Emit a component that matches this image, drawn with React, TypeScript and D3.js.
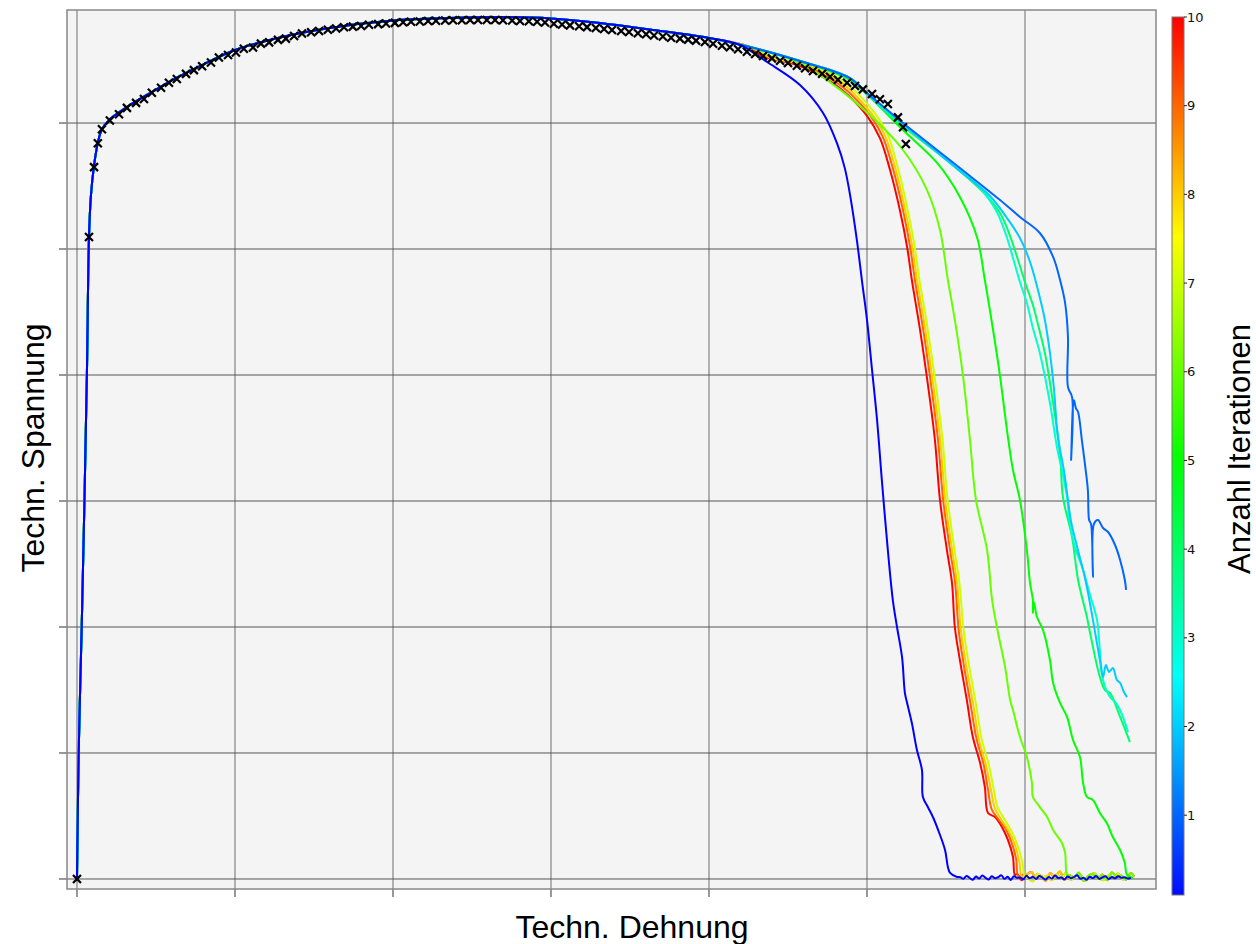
import React from 'react';
import * as d3 from 'd3';

// ---------- DATA (strain in %, stress in MPa) ----------
const X_TICKS = [0, 5, 10, 15, 20, 25, 30];
const Y_TICKS = [0, 100, 200, 300, 400, 500, 600];
const CB_TICKS = [1, 2, 3, 4, 5, 6, 7, 8, 9, 10];

// experimental points (markers)
const expStrain = [0, 0.38, 0.54, 0.66, 0.79, 1.04, 1.33, 1.58, 1.87, 2.12,
  2.37, 2.66, 2.91, 3.16, 3.45, 3.70, 3.96, 4.24, 4.49, 4.78,
  5.03, 5.28, 5.57, 5.82, 6.08, 6.36, 6.61, 6.87, 7.12, 7.41,
  7.66, 7.94, 8.20, 8.45, 8.73, 8.99, 9.24, 9.53, 9.78, 10.06,
  10.32, 10.57, 10.85, 11.11, 11.36, 11.65, 11.90, 12.18, 12.44, 12.69,
  12.97, 13.23, 13.48, 13.77, 14.02, 14.30, 14.56, 14.81, 15.09, 15.35,
  15.60, 15.89, 16.14, 16.42, 16.68, 16.93, 17.22, 17.47, 17.75, 18.01,
  18.26, 18.54, 18.80, 19.08, 19.34, 19.59, 19.87, 20.13, 20.41, 20.66,
  20.92, 21.20, 21.46, 21.71, 21.99, 22.25, 22.50, 22.78, 23.04, 23.29,
  23.58, 23.83, 24.08, 24.37, 24.62, 24.87, 25.16, 25.41, 25.66, 25.98,
  26.14, 26.23];
const expStress = [0, 509.5, 565, 584, 595, 602, 607, 612, 616, 619,
  624, 628, 632, 635, 639, 642, 645, 648, 652, 654,
  656, 659, 660, 663, 664, 666, 667, 669, 671, 672,
  673, 674, 675, 676, 676.5, 677, 678, 678.5, 679, 679.5,
  680, 680.3, 680.6, 681, 681.2, 681.3, 681.5, 681.6, 681.7, 681.7,
  681.7, 681.7, 681.5, 681.3, 681, 680.7, 680.3, 679.8, 678.8, 678.2,
  677.5, 676.8, 676.1, 675.4, 674.6, 673.8, 673, 672.2, 671.3, 670.5,
  669.5, 668.7, 667.7, 667, 666.2, 665.4, 664.3, 662.9, 661.3, 660.1,
  658.5, 656.6, 654.8, 653.2, 651.3, 649.4, 647.6, 645.5, 643.4, 641.3,
  639.1, 636.7, 634.4, 632, 629.4, 626.7, 623, 618.8, 615.1, 604.5,
  596.6, 583.3];

// shared simulated path (before the curves split)
const baseStrain = [0, 0.054, 0.149, 0.237, 0.316, 0.38, 0.443, 0.538, 0.665, 0.79,
  1.04, 1.58, 2.37, 3.16, 3.96, 5.0, 6.36, 8.0, 10.0, 11.8,
  13.4, 15.0, 16.55, 18.13, 20.0, 21.3, 22.88, 24.46];
const baseStress = [0, 100, 200, 300.8, 404, 509.5, 543, 566, 585, 595,
  603, 612.7, 624.6, 636, 646, 658, 667.5, 675.4, 681.3, 683.3,
  684.1, 683, 679.4, 674.2, 667.5, 660.3, 649.2, 635.7];

// residual noise after fracture
const flatAStrain = [27.95, 28.05, 28.15, 28.25, 28.35, 28.45, 28.55, 28.65, 28.75, 28.85,
  28.95, 29.05, 29.15, 29.25, 29.35, 29.45, 29.55, 29.65, 29.75, 29.85,
  29.95, 30.05, 30.15, 30.25, 30.35, 30.45, 30.55, 30.65, 30.75, 30.85,
  30.95, 31.05, 31.15, 31.25, 31.35, 31.45, 31.55, 31.65, 31.75, 31.85,
  31.95, 32.05, 32.15, 32.25, 32.35, 32.45, 32.55, 32.65, 32.75, 32.85,
  32.95, 33.05, 33.15, 33.25, 33.35];
const flatAStress = [1.5, 0.2, 2.4, 0.8, -0.6, 1.9, 0.4, 2.8, 1.0, -0.4,
  2.1, 0.6, 1.4, 3.0, 0.1, 1.7, -0.7, 2.2, 0.9, 1.3,
  -0.2, 2.6, 0.5, 1.8, 0.0, 2.3, 1.1, -0.5, 1.6, 0.3,
  2.7, 0.8, 1.2, -0.3, 2.0, 0.6, 1.5, 2.9, 0.2, 1.0,
  -0.6, 1.8, 0.7, 2.4, 0.1, 1.3, 2.1, -0.1, 1.6, 0.5,
  2.2, 0.9, 1.4, 0.3, 1.1];
const flatBStrain = [29.75, 29.9, 30.05, 30.2, 30.35, 30.5, 30.65, 30.8, 30.95, 31.1,
  31.25, 31.4, 31.55, 31.7, 31.85, 32.0, 32.15, 32.3, 32.45, 32.6,
  32.75, 32.9, 33.05, 33.2, 33.35, 33.45];
const flatBStress = [4.0, -1.0, 3.2, 5.5, 0.5, 2.8, -1.5, 4.5, 1.2, 6.0,
  -0.8, 3.0, 1.5, 5.0, -1.2, 2.5, 4.2, 0.0, 3.5, -1.0,
  5.2, 1.8, 2.6, -0.5, 4.8, 2.0];
const flatCStrain = [29.8, 29.95, 30.1, 30.25, 30.4, 30.55, 30.7, 30.85, 31.0, 31.15,
  31.3, 31.45, 31.6, 31.75, 31.9, 32.05, 32.2, 32.35, 32.5, 32.65,
  32.8, 32.95, 33.1, 33.25, 33.4];
const flatCStress = [-0.5, 3.5, 1.0, -1.8, 4.2, 0.8, 2.5, -1.0, 3.8, 0.3,
  5.0, -0.6, 2.2, 3.6, -1.4, 1.8, 4.6, 0.5, -0.9, 3.0,
  1.4, 4.4, -0.4, 2.0, 1.0];

// tails of each iteration after leaving the shared path [strain, stress]
const iter0Tail: [number, number][] = [[20.98, 661.9], [21.84, 648.4], [22.88, 630.2], [23.61, 608], [24.05, 584],
  [24.30, 564], [24.49, 539], [24.68, 507], [24.84, 475], [25.0, 443.7], [25.16, 404], [25.32, 364],
  [25.47, 316.7], [25.66, 261], [25.82, 221], [25.95, 200], [26.11, 176], [26.20, 147.6], [26.27, 139.7],
  [26.42, 123.8], [26.58, 102.4], [26.74, 86.5], [26.77, 65], [26.93, 57], [27.09, 49], [27.25, 39],
  [27.47, 23], [27.56, 9.5], [27.63, 4.8], [27.85, 1.6]];
const iter1Tail: [number, number][] = [[25.0, 623.8], [25.57, 611.9], [26.14, 600], [27.94, 564.3], [29.21, 538.9],
  [29.84, 525.4], [30.47, 512.7], [30.89, 493.7], [31.11, 475.4], [31.27, 457.1], [31.36, 430.2],
  [31.36, 390.5], [31.49, 382.5], [31.46, 332.5], [31.52, 376.2], [31.55, 380], [31.61, 373.8],
  [31.68, 370.6], [31.80, 348.4], [31.90, 328.6], [31.99, 308.7], [32.03, 284.9], [32.09, 281.7],
  [32.15, 239.7], [32.18, 281.7], [32.31, 284.9], [32.47, 278.6], [32.63, 275.4], [32.85, 265.1],
  [33.01, 253.2], [33.16, 237.3], [33.20, 229.4]];
const iter2Tail: [number, number][] = [[25.0, 623.3], [25.57, 611.3], [26.14, 599.2], [27.94, 561.9], [28.89, 542.1],
  [29.43, 524.6], [29.84, 508.7], [30.16, 489.7], [30.41, 467.5], [30.63, 443.7], [30.79, 417.5],
  [30.92, 388.1], [31.04, 350.8], [31.23, 324.6], [31.36, 300.8], [31.46, 283.3], [31.65, 263.5],
  [31.84, 245.2], [31.99, 227.8], [32.15, 205.6], [32.37, 173.8], [32.47, 160.3], [32.56, 169.8],
  [32.66, 164.3], [32.78, 167.5], [32.91, 157.9], [33.01, 155.6], [33.13, 148.4], [33.23, 144.4]];
const iter3Tail: [number, number][] = [[25.0, 623], [25.57, 611], [26.04, 600.8], [27.63, 569], [28.58, 548.4],
  [29.11, 529.4], [29.4, 511.1], [29.62, 492.9], [29.84, 473.8], [30.06, 457.1], [30.25, 437.3],
  [30.47, 417.5], [30.79, 377.8], [31.01, 342.9], [31.17, 324.6], [31.33, 303.2], [31.42, 282.5],
  [31.58, 263.5], [31.84, 245.2], [32.06, 225.4], [32.28, 205.6], [32.37, 181.7], [32.47, 157.9],
  [32.69, 144.4], [32.85, 140.5], [33.01, 134.1], [33.26, 116.7]];
const iter4Tail: [number, number][] = [[25.0, 622.8], [25.89, 602.4], [27.63, 568.3], [28.67, 545.2], [29.21, 528.6],
  [29.53, 510.3], [29.78, 491.3], [30.03, 471.4], [30.25, 455.6], [30.44, 437.3], [30.63, 417.5],
  [30.89, 377.8], [31.11, 338.1], [31.2, 303.2], [31.49, 271.4], [31.68, 237.3], [31.96, 207.9],
  [32.06, 195.2], [32.37, 160.3], [32.53, 150], [32.69, 147.6], [33.01, 128.6], [33.32, 108.7]];
const iter5Tail: [number, number][] = [[24.46, 634.1], [25.09, 620.6], [26.14, 594.4], [27.22, 568.3], [27.94, 541.3],
  [28.48, 509.5], [28.73, 475.4], [28.99, 435.7], [29.21, 399.2], [29.43, 356.3], [29.62, 324.6],
  [29.84, 300.8], [30.06, 261.1], [30.16, 234.9], [30.25, 221.4], [30.25, 211.1], [30.28, 219.8],
  [30.38, 207.9], [30.57, 197.6], [30.79, 173.8], [30.89, 155.6], [31.11, 139.7], [31.33, 128.6],
  [31.52, 110.3], [31.74, 96.8], [31.84, 76.2], [31.96, 65.1], [32.15, 62.7], [32.37, 52.4],
  [32.59, 44.4], [32.78, 33.3], [33.01, 23], [33.16, 12.7], [33.23, 3.2], [33.42, 0.8]];
const iter6Tail: [number, number][] = [[22.88, 647.6], [23.83, 632.5], [25.09, 606.3], [26.14, 578.6], [26.9, 546.8],
  [27.31, 515.1], [27.56, 475.4], [27.78, 443.7], [28.04, 399.2], [28.26, 348.4], [28.45, 300.8],
  [28.8, 261.1], [28.96, 221.4], [29.11, 200], [29.37, 168.3], [29.53, 142.1], [29.62, 134.1],
  [29.84, 112.7], [30.06, 96.8], [30.22, 76.2], [30.25, 65.1], [30.47, 57.1], [30.7, 49.2],
  [30.89, 38.9], [31.17, 28.6], [31.27, 20.6], [31.33, 3.2]];
const iter7Tail: [number, number][] = [[22.2, 651], [23.1, 647], [24.15, 635], [24.7, 623.5], [25.24, 608],
  [25.65, 591], [25.97, 565], [26.27, 533], [26.5, 503], [26.65, 477], [26.91, 438], [27.17, 393],
  [27.39, 349], [27.55, 301], [27.77, 261], [27.93, 234], [28.05, 199], [28.21, 172], [28.44, 140],
  [28.63, 111], [28.86, 90], [29.01, 71], [29.13, 57], [29.36, 47], [29.57, 38], [29.76, 27],
  [29.92, 13], [30.0, 1]];
const iter8Tail: [number, number][] = [[22.0, 651.5], [23.04, 646.5], [24.08, 634], [24.62, 622.5], [25.16, 607],
  [25.57, 590], [25.9, 564], [26.2, 532], [26.43, 502], [26.58, 476], [26.84, 437], [27.1, 392],
  [27.32, 348], [27.48, 300], [27.7, 260], [27.86, 233], [27.97, 198], [28.13, 171], [28.36, 139],
  [28.55, 110], [28.78, 89], [28.93, 70], [29.05, 56], [29.28, 46], [29.49, 38], [29.67, 28],
  [29.82, 14], [29.9, 1.5]];
const iter9Tail: [number, number][] = [[21.9, 652], [22.95, 646], [23.98, 633], [24.55, 621.5], [25.1, 606],
  [25.5, 589], [25.83, 563], [26.14, 531], [26.37, 501], [26.52, 475], [26.78, 436], [27.03, 392],
  [27.25, 348], [27.41, 301], [27.63, 261], [27.79, 235], [27.9, 198], [28.05, 172], [28.27, 140],
  [28.46, 112], [28.69, 91], [28.83, 71], [28.95, 55], [29.17, 47], [29.38, 40], [29.56, 30],
  [29.72, 16], [29.79, 2]];
const iter10Tail: [number, number][] = [[21.61, 654], [22.88, 645.2], [23.92, 631.7], [24.46, 620.6], [25.0, 605.6],
  [25.41, 588], [25.73, 562.7], [26.04, 531], [26.27, 501.6], [26.42, 475.4], [26.68, 435.7],
  [26.93, 392], [27.15, 348.4], [27.31, 300.8], [27.53, 261], [27.69, 235], [27.78, 200],
  [27.94, 173.8], [28.16, 142], [28.35, 112.7], [28.58, 92], [28.73, 73], [28.83, 52.4],
  [29.05, 49.2], [29.27, 41.3], [29.46, 31], [29.62, 17.5], [29.68, 3.2]];

const ITERATIONS = [0, 1, 2, 3, 4, 5, 6, 7, 8, 9, 10];
const TAILS = [iter0Tail, iter1Tail, iter2Tail, iter3Tail, iter4Tail, iter5Tail, iter6Tail, iter7Tail, iter8Tail, iter9Tail, iter10Tail];
const FLAT_OF = ['A', null, null, null, null, null, 'B', 'C', 'B', 'C', 'B'];

// ---------- LAYOUT ----------
const W = 1256, H = 944;
const P = { left: 67, right: 1156, top: 10, bottom: 889 };
const X_DOMAIN: [number, number] = [-0.316, 34.146];
const Y_DOMAIN: [number, number] = [-7.94, 689.7];
const CB = { x: 1172, w: 12, top: 17, bottom: 895 };
const CB_DOMAIN: [number, number] = [0.1, 10];

const iterColor = (v: number) => d3.hsl(240 * (1 - v / 10), 1, 0.5).formatHex();

function buildCurve(tail: [number, number][], flat: string | null): [number, number][] {
  const start = tail[0][0];
  const pts: [number, number][] = [];
  baseStrain.forEach((s, i) => { if (s < start) pts.push([s, baseStress[i]]); });
  tail.forEach(p => pts.push(p));
  const end = tail[tail.length - 1][0];
  let fs: number[] = [], fy: number[] = [];
  if (flat === 'A') { fs = flatAStrain; fy = flatAStress; }
  if (flat === 'B') { fs = flatBStrain; fy = flatBStress; }
  if (flat === 'C') { fs = flatCStrain; fy = flatCStress; }
  fs.forEach((s, i) => { if (s > end + 0.04) pts.push([s, fy[i]]); });
  return pts;
}

export default function App() {
  const x = d3.scaleLinear().domain(X_DOMAIN).range([P.left, P.right]);
  const y = d3.scaleLinear().domain(Y_DOMAIN).range([P.bottom, P.top]);
  const cb = d3.scaleLinear().domain(CB_DOMAIN).range([CB.bottom, CB.top]);
  const line = d3.line<[number, number]>()
    .x(d => x(d[0])).y(d => y(d[1]))
    .curve(d3.curveCatmullRom.alpha(0.5));

  const curves = ITERATIONS.map((it, i) => ({ it, pts: buildCurve(TAILS[i], FLAT_OF[i]) }));
  const drawOrder = [...curves].reverse();

  const stops = d3.range(0, 21).map(k => {
    const v = CB_DOMAIN[0] + (CB_DOMAIN[1] - CB_DOMAIN[0]) * k / 20;
    return { off: k / 20, c: iterColor(v) };
  });

  const font = "'Liberation Sans', Arial, sans-serif";
  const m = 4;

  return (
    <svg width={W} height={H} style={{ position: 'absolute', left: 0, top: 0, background: '#fff' }}>
      <defs>
        <linearGradient id="cbgrad" x1="0" y1="1" x2="0" y2="0">
          {stops.map((s, i) => <stop key={i} offset={s.off} stopColor={s.c} />)}
        </linearGradient>
        <clipPath id="plotclip">
          <rect x={P.left} y={P.top} width={P.right - P.left} height={P.bottom - P.top} />
        </clipPath>
      </defs>
      <rect x={P.left} y={P.top} width={P.right - P.left} height={P.bottom - P.top} fill="#f4f4f4" />
      {X_TICKS.map(t => (
        <line key={'gx' + t} x1={x(t)} x2={x(t)} y1={P.top} y2={P.bottom} stroke="#6e6e6e" strokeWidth={1} />
      ))}
      {Y_TICKS.map(t => (
        <line key={'gy' + t} x1={P.left} x2={P.right} y1={y(t)} y2={y(t)} stroke="#555" strokeWidth={1} />
      ))}
      {X_TICKS.map(t => (
        <line key={'tx' + t} x1={x(t)} x2={x(t)} y1={P.bottom} y2={P.bottom + 8} stroke="#333" strokeWidth={1} />
      ))}
      {Y_TICKS.map(t => (
        <line key={'ty' + t} x1={P.left - 8} x2={P.left} y1={y(t)} y2={y(t)} stroke="#333" strokeWidth={1} />
      ))}
      <g clipPath="url(#plotclip)">
        {drawOrder.map(c => (
          <path key={c.it} d={line(c.pts) || ''} fill="none" stroke={iterColor(c.it)} strokeWidth={2} strokeLinejoin="round" />
        ))}
        {expStrain.map((s, i) => {
          const cx = x(s), cy = y(expStress[i]);
          return (
            <path key={'m' + i} d={`M${cx - m},${cy - m}L${cx + m},${cy + m}M${cx - m},${cy + m}L${cx + m},${cy - m}`}
              stroke="#000" strokeWidth={2.2} fill="none" />
          );
        })}
      </g>
      <rect x={P.left} y={P.top} width={P.right - P.left} height={P.bottom - P.top} fill="none" stroke="#888" strokeWidth={1.5} />

      {/* colorbar */}
      <rect x={CB.x} y={CB.top} width={CB.w} height={CB.bottom - CB.top} fill="url(#cbgrad)" stroke="#777" strokeWidth={1} />
      {CB_TICKS.map(t => (
        <g key={'cb' + t}>
          <line x1={CB.x + CB.w} x2={CB.x + CB.w + 3} y1={cb(t)} y2={cb(t)} stroke="#222" strokeWidth={1} />
          <text x={CB.x + CB.w + 3} y={cb(t)} dy="0.35em" fontSize={13} fontFamily="'DejaVu Sans', sans-serif" fill="#111">{t}</text>
        </g>
      ))}

      <text x={632} y={938} textAnchor="middle" fontSize={32} fontFamily={font} fill="#000">Techn. Dehnung</text>
      <text transform="translate(44,448) rotate(-90)" textAnchor="middle" fontSize={32} fontFamily={font} fill="#000">Techn. Spannung</text>
      <text transform="translate(1250,449) rotate(-90)" textAnchor="middle" fontSize={31} fontFamily={font} fill="#000">Anzahl Iterationen</text>
    </svg>
  );
}
